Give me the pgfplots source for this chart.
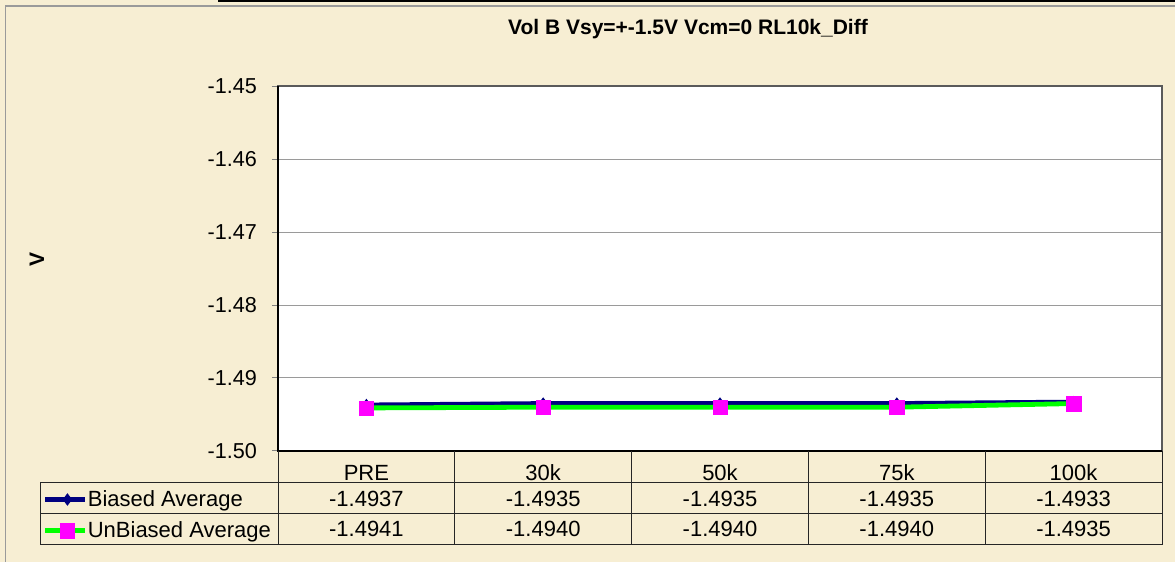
\documentclass[border=0pt]{standalone}
\usepackage{fontspec}
\setmainfont{Liberation Sans}
\usepackage{pgfplots}
\pgfplotsset{compat=1.18}
\definecolor{parch}{RGB}{247,238,211}
\definecolor{biased}{RGB}{0,0,128}
\definecolor{unbiased}{RGB}{0,255,0}
\definecolor{sqmark}{RGB}{255,0,255}
\definecolor{frame}{RGB}{128,128,128}

\begin{document}
\begin{tikzpicture}
% page background, in pixel units of the reference (y downwards)
\begin{scope}[x=0.5pt,y=-0.5pt,yshift=281pt]
  \fill[parch] (0,0) rectangle (1175,562);
  \draw[frame!80,line width=0.6pt] (5.5,562) -- (5.5,6) -- (1175,6);
  \draw[black,line width=1.2pt] (218,0.6) -- (1175,0.6);
  \node[anchor=base,font=\bfseries\fontsize{10.5}{12}\selectfont] at (688,35) {Vol B Vsy=+-1.5V Vcm=0 RL10k\_Diff};
  \node[rotate=90,font=\bfseries\fontsize{10.5}{12}\selectfont] at (37,260) {V};
\end{scope}

\begin{axis}[
    at={(139pt,55.5pt)}, anchor=south west,
    scale only axis, width=442pt, height=182.5pt,
    xmin=0.5, xmax=5.5, ymin=-1.50, ymax=-1.45,
    xtick={1,...,5}, xticklabels={PRE,30k,50k,75k,100k},
    ytick={-1.50,-1.49,-1.48,-1.47,-1.46,-1.45},
    yticklabels={-1.50,-1.49,-1.48,-1.47,-1.46,-1.45},
    x tick style={draw=none},
    y tick style={frame,line width=0.5pt},
    tick align=outside, major tick length=3pt,
    ytick pos=left,
    ymajorgrids, grid style={frame!80,line width=0.5pt},
    axis line style={frame!70!black,line width=0.6pt},
    axis background/.style={fill=white},
    yticklabel style={font=\fontsize{10.8}{12}\selectfont, text=black, anchor=east, xshift=-4pt},
    xticklabel style={font=\fontsize{11}{12}\selectfont, text=black, anchor=base, yshift=-12pt},
    clip=false,
    legend cell align=left,
    legend style={at={(axis description cs:-0.2658,-0.0959)}, anchor=north west,
        draw=none, fill=none, inner sep=0pt, outer sep=0pt, row sep=0pt,
        font=\fontsize{11}{12}\selectfont,
        nodes={inner sep=0pt, text height=10pt, text depth=5.5pt},
        /tikz/every even column/.append style={column sep=2pt}},
    legend image code/.code={\draw[yshift=1pt,mark repeat=2,mark phase=2] plot coordinates {(0pt,0pt) (11pt,0pt) (20pt,0pt)};},
]
\addplot[biased, line width=2.4pt, mark=diamond*, mark size=2.8pt,
    mark options={fill=biased, draw=biased, line width=0.4pt}]
    coordinates {(1,-1.4937) (2,-1.4935) (3,-1.4935) (4,-1.4935) (5,-1.4933)};
\addplot[unbiased, line width=2.4pt, mark=square*, mark size=3.6pt,
    mark options={fill=sqmark, draw=sqmark, line width=0.2pt}]
    coordinates {(1,-1.4941) (2,-1.4940) (3,-1.4940) (4,-1.4940) (5,-1.4935)};
\legend{Biased Average, UnBiased Average}
\draw[black, line width=0.6pt] (rel axis cs:0,1) -- (rel axis cs:0,0) -- (rel axis cs:1,0);
\end{axis}

% data table below the plot
\begin{scope}[x=0.5pt,y=-0.5pt,yshift=281pt]
  \draw[black!85,line width=0.5pt]
    (40,483) -- (1162,483) (40,514) -- (1162,514) (40,545) -- (1162,545)
    (40,483) -- (40,545)
    (278,451) -- (278,545) (454.8,451) -- (454.8,545) (631.6,451) -- (631.6,545)
    (808.4,451) -- (808.4,545) (985.2,451) -- (985.2,545) (1162,451) -- (1162,545);
  \begin{scope}[every node/.style={anchor=base,font=\fontsize{11}{12}\selectfont}]
    \node at (366.4,506.5) {-1.4937};
    \node at (543.2,506.5) {-1.4935};
    \node at (720,506.5) {-1.4935};
    \node at (896.8,506.5) {-1.4935};
    \node at (1073.6,506.5) {-1.4933};
    \node at (366.4,537) {-1.4941};
    \node at (543.2,537) {-1.4940};
    \node at (720,537) {-1.4940};
    \node at (896.8,537) {-1.4940};
    \node at (1073.6,537) {-1.4935};
  \end{scope}
\end{scope}
\pgfresetboundingbox
\path (0,0) rectangle (587.5pt,281pt);
\end{tikzpicture}
\end{document}
